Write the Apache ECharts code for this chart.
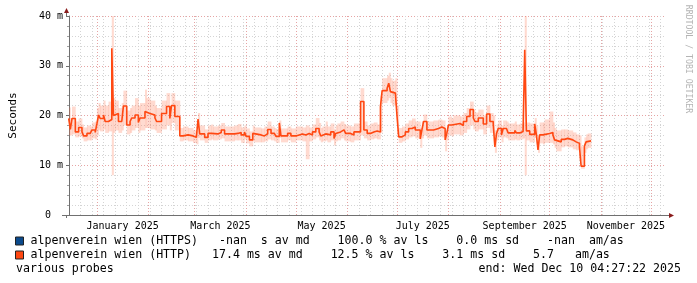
<!DOCTYPE html>
<html>
<head>
<meta charset="utf-8">
<script src="https://cdn.jsdelivr.net/npm/echarts@6/dist/echarts.min.js"></script>
<style>
html,body{margin:0;padding:0;background:#ffffff;}
#chart{width:697px;height:283px;}
</style>
</head>
<body>
<div id="chart"></div>
<script>
// ---------------- data ----------------
const dates = [
'2024-12-15','2024-12-16','2024-12-17','2024-12-19','2024-12-21','2024-12-23','2024-12-24','2024-12-26','2024-12-28','2024-12-29','2024-12-31',
'2025-01-01','2025-01-02','2025-01-03','2025-01-05','2025-01-06','2025-01-08','2025-01-10','2025-01-11','2025-01-12','2025-01-14','2025-01-16','2025-01-17','2025-01-19','2025-01-21','2025-01-22','2025-01-24','2025-01-26','2025-01-27','2025-01-30','2025-01-31',
'2025-02-02','2025-02-05','2025-02-06','2025-02-09','2025-02-12','2025-02-14','2025-02-15','2025-02-17','2025-02-20','2025-02-22','2025-02-25','2025-02-28',
'2025-03-02','2025-03-03','2025-03-04','2025-03-07','2025-03-09','2025-03-11','2025-03-12','2025-03-15','2025-03-17','2025-03-19','2025-03-25','2025-03-27','2025-03-29','2025-03-31',
'2025-04-01','2025-04-03','2025-04-05','2025-04-06','2025-04-10','2025-04-12','2025-04-14','2025-04-16','2025-04-18','2025-04-19','2025-04-21','2025-04-22','2025-04-26','2025-04-28',
'2025-05-01','2025-05-05','2025-05-07','2025-05-09','2025-05-11','2025-05-13','2025-05-15','2025-05-16','2025-05-17','2025-05-19','2025-05-20','2025-05-22','2025-05-24','2025-05-25','2025-05-26','2025-05-28','2025-05-30','2025-05-31',
'2025-06-03','2025-06-05','2025-06-09','2025-06-11','2025-06-13','2025-06-15','2025-06-17','2025-06-19','2025-06-21','2025-06-22','2025-06-25','2025-06-26','2025-06-27','2025-06-28','2025-06-30',
'2025-07-01','2025-07-02','2025-07-04','2025-07-06','2025-07-08','2025-07-10','2025-07-12','2025-07-15','2025-07-16','2025-07-17','2025-07-19','2025-07-23','2025-07-26','2025-07-28','2025-07-30','2025-07-31',
'2025-08-01','2025-08-03','2025-08-04','2025-08-08','2025-08-10','2025-08-12','2025-08-14','2025-08-16','2025-08-17','2025-08-19','2025-08-22','2025-08-24','2025-08-26','2025-08-28','2025-08-29','2025-08-30','2025-08-31',
'2025-09-02','2025-09-03','2025-09-05','2025-09-06','2025-09-10','2025-09-11','2025-09-13','2025-09-15','2025-09-16','2025-09-17','2025-09-19','2025-09-22','2025-09-23','2025-09-24','2025-09-25','2025-09-27','2025-09-28',
'2025-10-01','2025-10-03','2025-10-04','2025-10-05','2025-10-08','2025-10-10','2025-10-12','2025-10-15','2025-10-17','2025-10-19','2025-10-20','2025-10-22','2025-10-23','2025-10-24','2025-10-26'
];

// median RTT of "alpenverein wien (HTTP)" in ms
const httpMedian = [
19.4,17.2,19.4,16.7,17.6,16.7,15.9,16.4,16.2,17.1,16.6,
18.3,20.1,19.4,20.1,18.8,19.2,33.5,20.0,20.4,18.8,19.2,21.9,18.1,18.8,19.5,20.1,18.6,19.5,20.8,20.4,
20.1,19.5,18.8,20.4,21.8,19.4,22.0,19.8,15.9,16.1,15.9,15.6,
15.3,19.3,16.3,15.6,16.4,16.7,16.3,16.6,17.1,16.3,16.4,16.6,16.1,16.7,
15.8,15.1,16.4,16.1,15.9,16.3,17.2,16.4,16.1,15.8,18.5,15.9,16.4,15.9,
16.3,16.1,16.4,16.1,16.7,17.4,16.7,15.9,16.3,16.7,16.1,16.7,15.4,16.4,16.7,17.1,16.7,16.4,
16.1,16.7,22.8,17.1,16.4,16.7,16.9,16.7,21.8,25.0,25.5,26.5,24.8,24.5,24.8,
19.8,15.7,16.1,16.7,17.4,17.7,17.1,15.3,17.1,18.8,17.1,17.4,17.7,17.4,15.1,16.4,
18.1,17.7,18.4,18.0,18.8,19.8,21.2,19.5,18.8,19.5,18.3,20.3,18.8,18.3,13.7,16.4,17.4,
16.1,17.4,17.2,16.5,17.0,16.5,16.8,17.0,33.2,16.9,16.2,18.3,16.2,13.1,16.1,15.9,16.4,
16.6,16.1,15.1,14.7,15.2,15.4,15.1,14.7,14.4,13.7,9.8,13.9,14.7,14.9,14.9
];

// smoke band (lowest / highest ping) in ms
const smokeLow = [
16.0,16.0,16.2,15.6,15.8,15.4,14.8,15.0,15.0,15.4,15.2,
16.0,17.0,16.8,17.2,16.5,16.8,8.0,16.5,17.0,16.5,17.0,18.0,16.2,16.5,17.0,17.5,16.5,17.0,17.5,17.5,
17.2,17.0,16.5,17.2,18.0,17.0,18.5,17.0,14.8,15.0,14.8,14.5,
14.2,15.5,15.0,14.5,15.0,15.2,15.0,15.2,15.4,14.8,15.0,15.0,14.5,15.2,
14.4,13.8,14.8,14.6,14.6,14.8,15.2,15.0,14.8,14.5,15.5,14.6,15.0,14.6,
15.0,14.8,11.2,14.8,15.2,15.6,15.0,14.6,14.8,15.0,14.6,15.0,14.0,14.8,15.0,15.4,15.0,14.8,
14.6,15.0,16.0,15.4,15.0,15.2,15.4,15.2,16.5,22.5,23.0,23.5,22.5,22.0,22.0,
16.5,14.5,14.8,15.2,15.6,15.8,15.4,13.5,15.4,16.0,15.4,15.6,15.8,15.6,12.8,15.0,
16.0,15.8,16.2,16.0,16.5,17.2,18.0,17.2,16.8,17.2,16.2,17.5,16.5,16.0,12.5,15.0,15.6,
14.6,15.6,15.4,15.0,15.2,15.0,15.2,15.4,8.0,15.0,14.6,15.5,14.4,12.5,14.4,14.2,14.5,
14.5,14.2,13.5,12.8,13.6,13.8,13.6,13.2,13.0,11.0,9.3,12.5,13.2,13.5,13.5
];
const smokeHigh = [
21.6,19.5,21.8,18.8,19.4,18.2,17.6,18.0,17.8,18.6,18.8,
21.5,22.5,22.0,23.0,22.0,22.8,40.0,23.5,23.0,21.5,22.5,25.0,21.0,21.5,22.0,23.5,22.0,22.5,25.2,23.5,
23.0,22.0,21.5,23.0,24.5,22.0,24.5,23.0,17.5,17.8,17.5,17.0,
16.8,20.5,18.0,17.2,18.0,18.2,17.8,18.0,18.5,17.8,18.0,18.3,17.6,18.0,
17.4,16.8,18.0,17.6,17.4,17.8,18.8,17.8,17.5,17.3,19.0,17.4,17.8,17.4,
17.8,17.6,18.0,17.6,18.2,19.5,18.5,17.5,17.8,18.8,17.8,18.4,17.2,18.0,18.4,18.8,18.3,18.0,
17.8,18.4,25.5,18.8,18.0,18.4,18.6,18.2,24.0,27.5,28.0,28.6,27.5,27.0,27.5,
22.0,17.5,17.8,18.4,19.0,19.4,18.8,17.5,18.8,20.2,18.8,19.0,19.2,19.0,17.0,18.0,
19.8,19.4,20.0,19.8,20.5,21.5,22.8,21.2,20.6,21.2,20.0,22.0,20.5,20.0,17.0,18.2,19.0,
18.0,19.0,18.8,18.4,18.8,18.2,18.4,18.6,40.0,18.6,18.4,19.5,18.0,16.0,18.6,18.6,19.2,
20.8,18.6,17.5,17.0,17.2,17.2,17.0,16.6,16.2,16.0,13.8,15.6,16.2,16.4,16.4
];

// HTTPS target has no data (-nan)
const httpsMedian = [];

// axis range / grid / labels
const rangeStart = '2024-12-15T04:27:22Z';
const rangeEnd   = '2025-12-10T04:27:22Z';
const monthStarts = ['2025-01-01','2025-02-01','2025-03-01','2025-04-01','2025-05-01','2025-06-01',
                     '2025-07-01','2025-08-01','2025-09-01','2025-10-01','2025-11-01','2025-12-01'];
const weekStarts = ['2024-12-22','2024-12-29','2025-01-05','2025-01-12','2025-01-19','2025-01-26','2025-02-02','2025-02-09','2025-02-16','2025-02-23',
 '2025-03-02','2025-03-09','2025-03-16','2025-03-23','2025-03-30','2025-04-06','2025-04-13','2025-04-20','2025-04-27','2025-05-04','2025-05-11','2025-05-18','2025-05-25',
 '2025-06-01','2025-06-08','2025-06-15','2025-06-22','2025-06-29','2025-07-06','2025-07-13','2025-07-20','2025-07-27','2025-08-03','2025-08-10','2025-08-17','2025-08-24','2025-08-31',
 '2025-09-07','2025-09-14','2025-09-21','2025-09-28','2025-10-05','2025-10-12','2025-10-19','2025-10-26','2025-11-02','2025-11-09','2025-11-16','2025-11-23','2025-11-30','2025-12-07'];
const monthLabelPos = ['2025-01-16T12:00:00Z','2025-03-16T12:00:00Z','2025-05-16T12:00:00Z','2025-07-16T12:00:00Z','2025-09-16T00:00:00Z','2025-11-16T00:00:00Z'];
const monthLabels = ['January 2025','March 2025','May 2025','July 2025','September 2025','November 2025'];

const seriesNames = ['alpenverein wien (HTTPS)','alpenverein wien (HTTP)'];
const legendLines = [
  'alpenverein wien (HTTPS)   -nan  s av md    100.0 % av ls    0.0 ms sd    -nan  am/as',
  'alpenverein wien (HTTP)   17.4 ms av md    12.5 % av ls    3.1 ms sd    5.7   am/as'
];
const footLeft = 'various probes';
const footRight = 'end: Wed Dec 10 04:27:22 2025';
const watermark = 'RRDTOOL / TOBI OETIKER';

// ---------------- build ----------------
const ts = s => Date.parse(s.length === 10 ? s + 'T00:00:00Z' : s);
const tMin = ts(rangeStart), tMax = ts(rangeEnd);
const medData = dates.map((d, i) => [ts(d), httpMedian[i]]);
const smokeData = dates.slice(0, -1).map((d, i) => [ts(d), ts(dates[i + 1]), smokeLow[i], smokeHigh[i]]);
const labelMap = {};
monthLabelPos.forEach((p, i) => { labelMap[ts(p)] = monthLabels[i]; });
const legendMap = {};
seriesNames.forEach((n, i) => { legendMap[n] = legendLines[i]; });

const MONO = 'DejaVu Sans Mono';
const GL = 66, GT = 16, GW = 600, GH = 199;
const AX = '#707070', ARROW = '#8a1c1c';

const chart = echarts.init(document.getElementById('chart'), null, {renderer: 'canvas'});
chart.setOption({
  animation: false,
  backgroundColor: '#ffffff',
  grid: {left: GL, top: GT, width: GW, height: GH, containLabel: false},
  xAxis: [{
    type: 'value', min: tMin, max: tMax, position: 'bottom', z: 2, scale: true,
    axisLine: {show: true, onZero: false, lineStyle: {color: AX, width: 1}},
    axisTick: {show: false, customValues: monthStarts.map(ts)},
    axisLabel: {
      customValues: monthLabelPos.map(ts),
      formatter: v => labelMap[v] || '',
      fontFamily: MONO, fontSize: 10, color: '#000', margin: 6, hideOverlap: false
    },
    splitLine: {show: true, lineStyle: {color: '#e6a4a4', width: 1, type: [1, 2]}}
  }, {
    type: 'value', min: tMin, max: tMax, position: 'bottom', z: 1, scale: true,
    axisLine: {show: false}, axisLabel: {show: false},
    axisTick: {show: false, customValues: weekStarts.map(ts)},
    splitLine: {show: true, lineStyle: {color: '#d4d4d4', width: 1, type: [1, 2]}}
  }],
  yAxis: {
    type: 'value', min: 0, max: 40, interval: 10,
    axisLine: {show: true, lineStyle: {color: AX, width: 1}},
    axisTick: {show: true, length: 3, lineStyle: {color: AX}},
    minorTick: {show: true, splitNumber: 5, length: 2, lineStyle: {color: '#a0a0a0'}},
    minorSplitLine: {show: true, lineStyle: {color: '#d4d4d4', width: 1, type: [1, 2]}},
    splitLine: {show: true, lineStyle: {color: '#e6a4a4', width: 1, type: [1, 2]}},
    axisLabel: {
      formatter: v => v === 0 ? '0  ' : v + ' m',
      fontFamily: MONO, fontSize: 10, color: '#000', margin: 6
    },
    name: 'Seconds', nameLocation: 'middle', nameGap: 50, nameRotate: 90,
    nameTextStyle: {fontFamily: MONO, fontSize: 11, color: '#000'}
  },
  legend: {
    orient: 'vertical', left: 15, top: 234, padding: 0,
    itemWidth: 8, itemHeight: 8, itemGap: 0, icon: 'rect', selectedMode: false,
    data: seriesNames,
    formatter: n => legendMap[n],
    itemStyle: {borderColor: '#222', borderWidth: 1},
    textStyle: {fontFamily: MONO, fontSize: 11.6, color: '#000', lineHeight: 14, padding: [0, 0, 0, 2]}
  },
  series: [
    {
      name: 'smoke', type: 'custom', data: smokeData, silent: true, z: 1, clip: true,
      encode: {x: [0, 1], y: [2, 3]},
      renderItem: (params, api) => {
        const a = api.coord([api.value(0), api.value(3)]);
        const b = api.coord([api.value(1), api.value(2)]);
        return {type: 'rect', shape: {x: a[0], y: a[1], width: b[0] - a[0] + 0.4, height: b[1] - a[1]},
                style: {fill: 'rgba(255,112,72,0.26)'}};
      }
    },
    {
      name: seriesNames[0], type: 'line', data: httpsMedian, color: '#0b4a8c',
      showSymbol: false, symbol: 'none'
    },
    {
      name: seriesNames[1], type: 'line', step: 'end', data: medData, color: '#ff4812',
      showSymbol: false, symbol: 'none', lineStyle: {width: 1.6, color: '#ff4812'}, z: 3
    }
  ],
  graphic: [
    {type: 'line', shape: {x1: GL + 0.5, y1: 12, x2: GL + 0.5, y2: GT}, style: {stroke: AX, lineWidth: 1}},
    {type: 'line', shape: {x1: GL + 0.5, y1: GT + GH, x2: GL + 0.5, y2: GT + GH + 3}, style: {stroke: AX, lineWidth: 1}},
    {type: 'polygon', shape: {points: [[GL - 2, 13], [GL + 3, 13], [GL + 0.5, 8]]}, style: {fill: ARROW}},
    {type: 'line', shape: {x1: GL - 4, y1: GT + GH + 0.5, x2: GL, y2: GT + GH + 0.5}, style: {stroke: AX, lineWidth: 1}},
    {type: 'line', shape: {x1: GL + GW, y1: GT + GH + 0.5, x2: GL + GW + 3, y2: GT + GH + 0.5}, style: {stroke: AX, lineWidth: 1}},
    {type: 'polygon', shape: {points: [[GL + GW + 3, GT + GH - 2], [GL + GW + 3, GT + GH + 3], [GL + GW + 8, GT + GH + 0.5]]}, style: {fill: ARROW}},
    {type: 'text', x: 688, y: 59, rotation: -Math.PI / 2,
     style: {text: watermark, font: '8.2px "DejaVu Sans Mono"', fill: '#b4b4b4', align: 'center', verticalAlign: 'middle'}},
    {type: 'text', left: 16, top: 263, style: {text: footLeft, font: '11.6px "DejaVu Sans Mono"', fill: '#000'}},
    {type: 'text', right: 16, top: 263, style: {text: footRight, font: '11.6px "DejaVu Sans Mono"', fill: '#000'}}
  ]
});
</script>
</body>
</html>
